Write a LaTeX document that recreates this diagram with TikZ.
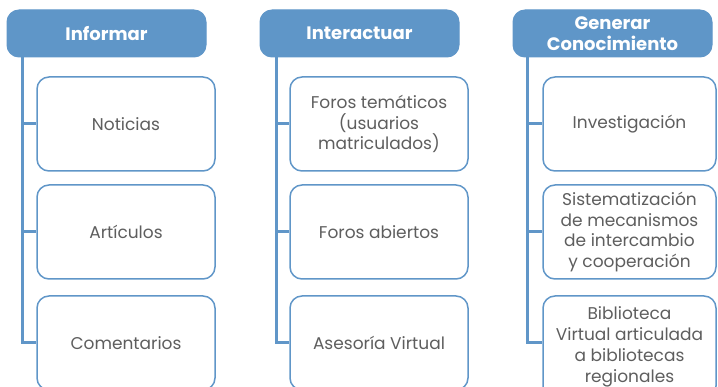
\documentclass[tikz,border=0pt]{standalone}
\usepackage{fontspec}
\setmainfont{Poppins}
\definecolor{hblue}{HTML}{5F96C8}
\definecolor{bblue}{HTML}{6096C8}
\definecolor{tgray}{HTML}{5E5E5E}
\tikzset{
  head/.style={draw=bblue, fill=hblue, rounded corners=12pt, line width=1pt,
    minimum width=199pt, minimum height=47pt, text=white, align=center,
    font=\fontsize{18}{21}\selectfont\bfseries, inner sep=0pt},
  item/.style={draw=bblue, fill=white, rounded corners=12pt, line width=1.5pt,
    minimum width=178pt, minimum height=94pt, text=tgray, align=center,
    font=\fontsize{17}{20.8}\selectfont, inner sep=0pt},
  conn/.style={draw=bblue, line width=3pt},
}
\begin{document}
\begin{tikzpicture}[x=1pt,y=-1pt]
\useasboundingbox (0,0) rectangle (718,387);
\clip (0,0) rectangle (718,387);
% headers
\node[head] (h1) at (106.5,33.5) {Informar};
\node[head] (h2) at (359.5,33.5) {Interactuar};
\node[head] (h3) at (612.5,33.5) {Generar\\Conocimiento};
% column 1
\node[item] (a1) at (126,124) {Noticias};
\node[item] (a2) at (126,232) {Artículos};
\node[item] (a3) at (126,343) {Comentarios};
% column 2
\node[item] (b1) at (379,124) {Foros temáticos\\(usuarios\\matriculados)};
\node[item] (b2) at (379,232) {Foros abiertos};
\node[item] (b3) at (379,343) {Asesoría Virtual};
% column 3
\node[item, minimum width=173pt] (c1) at (629.5,124) {Investigación};
\node[item, minimum width=173pt] (c2) at (629.5,232) {Sistematización\\de mecanismos\\de intercambio\\y cooperación};
\node[item, minimum width=173pt, minimum height=102pt] (c3) at (629.5,347) {Biblioteca\\Virtual articulada\\a bibliotecas\\regionales};
% connectors
\draw[conn] ([xshift=16pt]h1.south west) |- (a1.west);
\draw[conn] ([xshift=16pt]h1.south west) |- (a2.west);
\draw[conn] ([xshift=16pt]h1.south west) |- (a3.west);
\draw[conn] ([xshift=17pt]h2.south west) |- (b1.west);
\draw[conn] ([xshift=17pt]h2.south west) |- (b2.west);
\draw[conn] ([xshift=17pt]h2.south west) |- (b3.west);
\draw[conn] ([xshift=15pt]h3.south west) |- (c1.west);
\draw[conn] ([xshift=15pt]h3.south west) |- (c2.west);
\draw[conn] ([xshift=15pt]h3.south west) |- ([yshift=4pt]c3.west);
\end{tikzpicture}
\end{document}
